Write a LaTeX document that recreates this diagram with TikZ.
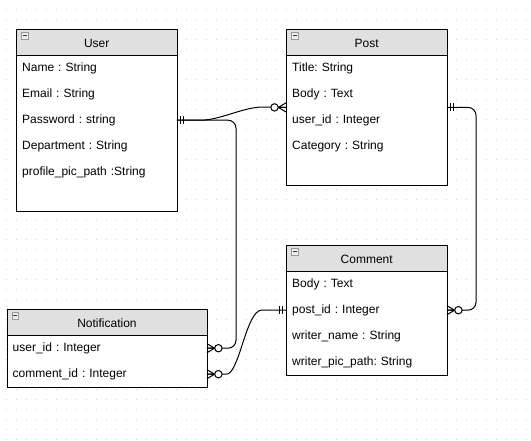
\documentclass[tikz,border=0pt]{standalone}
\usepackage{fontspec}
\setmainfont{Liberation Sans}
\usetikzlibrary{calc}
\frenchspacing
\definecolor{hdrgray}{HTML}{E0E0E0}
\definecolor{dotgray}{HTML}{D2D2D2}
\definecolor{icongray}{HTML}{9A9A9A}
\definecolor{iconfill}{HTML}{EDEDED}
\definecolor{icondark}{HTML}{333333}
\tikzset{
  entbox/.style={draw, line width=1pt, fill=white, anchor=north west, inner sep=0pt},
  hdr/.style={draw, line width=1pt, fill=hdrgray, anchor=north west, minimum height=26pt,
    inner sep=0pt, text height=9pt, text depth=0pt, font=\fontsize{12pt}{14pt}\selectfont},
  row/.style={anchor=north west, minimum height=26pt, inner xsep=6pt, inner ysep=0pt,
    text height=9pt, text depth=2pt, align=left, text width=#1, font=\fontsize{12pt}{14pt}\selectfont},
  icon/.style={draw=icongray, fill=iconfill, line width=0.7pt, minimum size=6.5pt, inner sep=0pt,
    path picture={\draw[icondark, line width=1.3pt] ([xshift=-2pt]path picture bounding box.center) -- ([xshift=2pt]path picture bounding box.center);}},
  conn/.style={line width=1pt},
  zmany/.pic={\draw[line width=1pt] (0,-4.5)--(-7.8,0)--(0,4.5) (-7.8,0)--(0,0);
              \draw[line width=1pt, fill=white] (-11.5,0) circle (3.7pt);},
  onemark/.pic={\draw[line width=1pt] (-3.5,-4)--(-3.5,4) (-6.5,-4)--(-6.5,4);}
}
\begin{document}
\begin{tikzpicture}[x=1pt,y=-1pt]
\useasboundingbox (0,0) rectangle (531,440);
% dotted grid
\foreach \gx in {6,16,...,526} {
  \foreach \gy in {9,19,...,439} {
    \fill[dotgray] (\gx-0.5,\gy-0.5) rectangle ++(1,1);
  }
}
% ---------- User ----------
\node[entbox, minimum width=160.5pt, minimum height=182pt] (user) at (16,29) {};
\node[hdr, minimum width=160.5pt] (userh) at (16,29) {User};
\node[icon] (usericon) at ($(user.north west)+(8.75,6.75)$) {};
\node[row=148.5pt] (uname) at (16,55) {Name : String};
\node[row=148.5pt] (umail) at (16,81) {Email : String};
\node[row=148.5pt] (upass) at (16,107) {Password : string};
\node[row=148.5pt] (udept) at (16,133) {Department : String};
\node[row=148.5pt] (upic) at (16,159) {profile\_pic\_path :String};
% ---------- Post ----------
\node[entbox, minimum width=160.5pt, minimum height=156pt] (post) at (286,29) {};
\node[hdr, minimum width=160.5pt] (posth) at (286,29) {Post};
\node[icon] (posticon) at ($(post.north west)+(8.75,6.75)$) {};
\node[row=148.5pt] (ptitle) at (286,55) {Title: String};
\node[row=148.5pt] (pbody) at (286,81) {Body : Text};
\node[row=148.5pt] (puser) at (286,107) {user\_id : Integer};
\node[row=148.5pt] (pcat) at (286,133) {Category : String};
% ---------- Comment ----------
\node[entbox, minimum width=160.5pt, minimum height=130pt] (comment) at (286,245) {};
\node[hdr, minimum width=160.5pt] (commenth) at (286,245) {Comment};
\node[icon] (commenticon) at ($(comment.north west)+(8.75,6.75)$) {};
\node[row=148.5pt] (cbody) at (286,271) {Body : Text};
\node[row=148.5pt] (cpost) at (286,297) {post\_id : Integer};
\node[row=148.5pt] (cname) at (286,323) {writer\_name : String};
\node[row=148.5pt] (cpic) at (286,349) {writer\_pic\_path: String};
% ---------- Notification ----------
\node[entbox, minimum width=200pt, minimum height=78pt] (notif) at (6.5,309) {};
\node[hdr, minimum width=200pt] (notifh) at (6.5,309) {Notification};
\node[icon] (notificon) at ($(notif.north west)+(8.75,6.75)$) {};
\node[row=188pt] (nuser) at (6.5,335) {user\_id : Integer};
\node[row=188pt] (ncomm) at (6.5,361) {comment\_id : Integer};
% ---------- connectors ----------
\coordinate (ubus) at (236,200);
\coordinate (pbus) at (476,200);
\draw[conn] (upass.east) -- ++(23.5,0) .. controls +(20,0) and (243,107) .. (263,107) -- (pbody.south west);
\draw[conn, rounded corners=8pt] (upass.east) -| (ubus) |- (nuser.east);
\draw[conn] (ncomm.east) -- ++(19.5,0) .. controls +(13,0) and (246,310) .. (262,310) -- (cpost.west);
\draw[conn, rounded corners=8pt] (pbody.south east) -| (pbus) |- (cpost.east);
% ---------- end marks ----------
\pic[rotate=180] at (upass.east) {onemark};
\pic at (pbody.south west) {zmany};
\pic[rotate=180] at (nuser.east) {zmany};
\pic[rotate=180] at (ncomm.east) {zmany};
\pic at (cpost.west) {onemark};
\pic[rotate=180] at (pbody.south east) {onemark};
\pic[rotate=180] at (cpost.east) {zmany};
\end{tikzpicture}
\end{document}
